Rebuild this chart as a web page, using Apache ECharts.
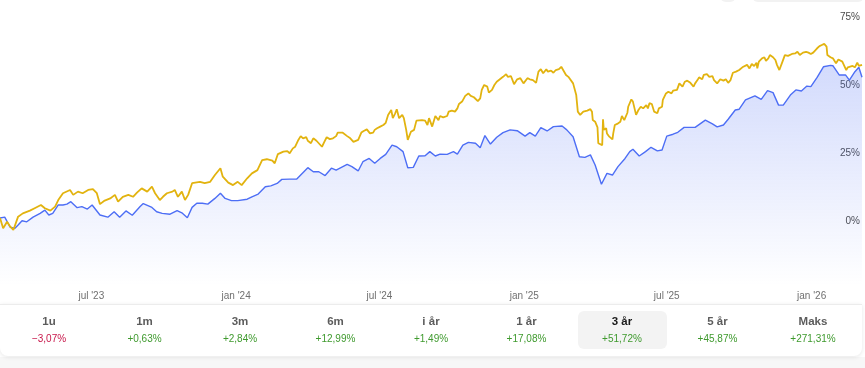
<!DOCTYPE html>
<html><head><meta charset="utf-8">
<script src="https://cdn.jsdelivr.net/npm/echarts@6/dist/echarts.min.js"></script>
<style>html,body{margin:0;padding:0;background:#fff;}#c{width:865px;height:368px;}</style>
</head><body><div id="c"></div>
<script>
// day offsets from 2023-03-07 and cumulative return in %
const blueDays = [0,6,13,19,23,28,34,42,51,57,62,67,74,80,85,90,98,104,111,117,127,137,145,152,160,168,178,182,193,199,206,216,225,231,238,244,250,257,264,273,280,286,294,302,314,320,328,337,344,352,358,368,377,391,398,405,413,421,427,441,447,455,461,469,476,483,490,498,504,512,518,525,532,540,546,553,559,568,576,581,588,595,604,610,616,623,631,639,648,657,667,673,680,687,695,703,714,720,728,736,743,750,756,764,771,778,785,794,800,804,812,820,827,835,841,847,855,861,869,883,896,905,911,919,925,934,939,947,959,967,975,982,989,995,1004,1011,1018,1025,1030,1038,1046,1055,1058,1066,1074,1079,1086,1091,1095];
const blueValues = [0,0.3,-3.4,-3.8,-2.6,-1.0,-1.4,0.3,1.7,2.9,1.1,1.7,4.8,4.8,5.1,6.0,3.8,4.2,3.3,4.8,1.1,0.3,2.3,0.3,2.6,1.0,4.2,5.3,3.9,2.3,1.7,1.4,2.7,1.9,0.1,3.9,5.4,5.4,5.1,7.2,9.1,7.2,6.4,6.4,6.9,7.8,8.8,11.5,11.8,12.7,14.2,14.3,14.3,18.5,17.0,17.0,15.6,18.3,17.6,19.7,18.9,17.3,20.7,21.9,20.1,21.9,23.4,26.8,26.2,24.4,18.5,18.6,22.8,22.9,24.4,22.8,23.5,23.4,24.4,23.5,26.8,27.8,27.5,25.8,30.3,27.2,29.7,31.4,32.4,32.1,30.1,31.4,30.1,33.2,32.0,33.6,33.8,32.4,29.9,22.5,22.3,23.2,19.5,12.4,16.4,15.8,18.9,21.9,24.4,25.3,22.8,24.4,26.0,24.7,25.0,30.1,30.8,31.5,33.3,33.3,36.0,34.6,33.5,34.2,36.3,39.7,40.0,43.4,44.9,43.6,46.8,46.1,41.5,41.5,45.2,47.1,46.7,48.5,48.3,51.7,55.6,56.1,56.0,52.6,52.6,50.7,53.8,55.4,51.72];

const benchDays = [0,4,9,13,17,23,29,38,44,52,57,64,70,74,80,89,93,99,105,112,118,123,127,133,140,146,150,156,163,169,174,180,187,193,197,203,207,212,219,222,226,231,235,239,244,248,254,260,267,273,280,283,290,296,302,307,314,320,327,333,339,346,349,353,360,365,368,372,375,379,382,385,389,391,395,398,402,404,409,412,415,419,423,427,429,435,437,441,445,449,451,455,459,462,466,470,474,476,479,483,487,490,493,497,499,502,504,507,511,513,516,518,522,526,529,531,536,540,543,545,549,553,557,559,563,568,570,574,578,581,583,587,591,595,598,602,607,610,612,615,619,621,625,628,631,633,635,639,643,645,649,653,657,661,665,670,673,677,681,684,687,690,694,696,700,703,706,710,713,715,719,722,724,728,732,734,737,741,743,746,750,752,753,756,759,760,762,765,766,767,770,771,774,778,779,781,784,788,790,793,797,798,802,804,808,811,814,817,821,823,825,828,831,835,837,841,842,846,849,853,855,860,863,867,870,873,877,881,883,886,888,892,894,898,901,905,907,911,915,919,922,925,928,931,935,939,943,945,949,952,955,958,961,962,964,968,971,973,976,978,982,985,987,990,994,997,1001,1006,1010,1013,1016,1020,1024,1027,1030,1033,1038,1041,1044,1047,1050,1051,1055,1058,1062,1065,1070,1072,1075,1077,1083,1086,1089,1091,1095];
const benchValues = [0,-3.8,-1.4,-3.2,-4.4,0.5,1.7,2.7,3.6,4.8,3.6,2.7,4.2,6.6,9.1,10.3,8.5,9.7,9.1,10.3,10.6,9.1,5.1,6.4,7.2,8.5,6.0,7.8,8.5,7.8,9.3,10.9,9.7,11.5,9.1,6.6,7.8,9.1,9.7,10.3,7.8,9.7,6.6,8.5,12.8,13.0,13.3,12.8,13.3,15.8,18.3,15.2,13.0,12.1,13.3,12.1,14.6,16.4,17.6,21.3,21.6,21.1,20.1,23.5,24.4,24.6,23.8,25.6,26.2,28.7,30.1,29.3,29.7,28.4,27.5,29.3,28.4,27.7,26.2,28.0,29.7,29.0,29.3,30.1,31.4,31.4,31.7,30.1,29.3,28.0,27.5,28.7,31.4,32.0,32.6,31.1,31.4,32.4,33.0,33.6,34.2,35.0,37.9,39.7,36.7,38.5,40.0,36.7,37.9,36.7,32.4,28.7,31.7,32.4,35.8,35.4,36.0,35.8,34.2,36.7,33.6,37.5,36.0,37.5,37.0,37.5,39.1,39.5,39.1,40.3,41.9,42.8,44.9,45.8,44.9,44.4,43.0,44.0,47.1,48.9,48.3,46.1,47.1,48.9,50.1,49.5,51.0,51.9,52.9,51.9,52.2,49.2,51.0,51.4,49.5,51.4,51.0,50.7,49.7,53.8,54.7,53.2,54.7,53.8,54.2,53.4,54.4,54.7,55.6,55.0,52.6,51.9,52.6,49.5,45.2,39.1,37.9,39.1,38.7,39.5,40.0,39.1,36.0,35.4,33.3,27.5,27.2,26.8,36.3,32.4,33.0,31.1,29.9,28.9,31.1,34.2,34.6,35.4,37.5,36.0,38.7,40.9,43.6,42.8,37.9,39.7,40.9,40.3,41.5,40.3,42.2,41.9,39.1,38.5,40.3,40.9,43.4,45.8,46.4,45.8,46.8,47.1,49.5,48.3,50.1,50.5,49.7,48.3,49.5,50.7,51.7,51.0,52.6,52.9,51.9,52.2,50.7,49.5,51.0,50.5,51.0,49.7,50.7,53.4,53.8,54.4,55.4,54.7,56.3,55.0,56.6,55.9,57.1,55.0,57.5,58.7,59.1,57.8,58.7,59.9,59.1,58.1,56.3,54.4,57.5,59.9,59.6,60.3,60.5,61.1,59.9,60.8,61.1,60.8,60.3,60.8,62.4,63.2,63.6,64.0,63.0,59.9,59.1,58.7,56.9,58.3,57.5,56.9,54.4,55.4,55.9,55.4,57.1,55.9,56.3];

const xTickDates = ['2023-07-01','2024-01-01','2024-07-01','2025-01-01','2025-07-01','2026-01-01'];
const xTickLabels = ["jul '23","jan '24","jul '24","jan '25","jul '25","jan '26"];
const yTicks = [0,25,50,75];

const periodLabels = ['1u','1m','3m','6m','i år','1 år','3 år','5 år','Maks'];
const periodValues = ['−3,07%','+0,63%','+2,84%','+12,99%','+1,49%','+17,08%','+51,72%','+45,87%','+271,31%'];
const selectedPeriod = 6;

const START = Date.UTC(2023,2,7), DAY = 864e5;
const ts = d => START + d*DAY;
const blueData = blueDays.map((d,i)=>[ts(d), blueValues[i]]);
const benchData = benchDays.map((d,i)=>[ts(d), benchValues[i]]);
const xTickTs = xTickDates.map(s=>Date.parse(s+'T00:00:00Z'));

const FONT = '"Liberation Sans", Arial, sans-serif';
const graphics = [];
graphics.push({type:'rect', silent:true, z:0, shape:{x:0,y:357,width:865,height:20}, style:{fill:'#f7f7f7'}});
graphics.push({type:'rect', silent:true, z:1, shape:{x:0,y:304,width:862,height:52,r:[0,0,8,8]}, style:{fill:'#fff', shadowBlur:4, shadowOffsetY:1, shadowColor:'rgba(0,0,0,0.10)'}});
graphics.push({type:'line', silent:true, z:2, shape:{x1:0,y1:304.5,x2:862,y2:304.5}, style:{stroke:'#ececec', lineWidth:1}});
graphics.push({type:'rect', silent:true, z:1, shape:{x:720,y:-20,width:16,height:22,r:6}, style:{fill:'#f2f2f2'}});
graphics.push({type:'rect', silent:true, z:1, shape:{x:752,y:-20,width:112,height:22,r:6}, style:{fill:'#f2f2f2'}});
periodLabels.forEach((lab,i)=>{
  const cx = 49 + i*95.5;
  if (i===selectedPeriod) {
    graphics.push({type:'rect', silent:true, z:3, shape:{x:cx-44,y:311,width:89,height:38,r:6}, style:{fill:'#f3f3f3'}});
  }
  graphics.push({type:'text', silent:true, z:4, style:{text:lab, x:cx, y:322, align:'center', verticalAlign:'middle', fill: i===selectedPeriod?'#1a1a1a':'#5c5c5c', fontSize:11.5, fontWeight:'bold', fontFamily:FONT}});
  const neg = periodValues[i].charAt(0)==='−';
  graphics.push({type:'text', silent:true, z:4, style:{text:periodValues[i], x:cx, y:339, align:'center', verticalAlign:'middle', fill: neg?'#c8174a':'#3f9a2e', fontSize:10, fontFamily:FONT}});
});

const chart = echarts.init(document.getElementById('c'), null, {renderer:'canvas'});
chart.setOption({
  animation:false,
  grid:{left:0,right:3,top:14,bottom:82,containLabel:false},
  xAxis:{type:'value', min:ts(0), max:ts(1095),
    axisLine:{show:false}, axisTick:{show:false}, splitLine:{show:false},
    axisLabel:{customValues:xTickTs, color:'#707070', fontSize:10, fontFamily:FONT, margin:5,
      formatter:(v)=>{const i=xTickTs.indexOf(v); return i>=0?xTickLabels[i]:'';}}},
  yAxis:{type:'value', position:'right', min:-25, max:75, interval:25,
    axisLine:{show:false}, axisTick:{show:false}, splitLine:{show:false},
    axisLabel:{inside:true, margin:2, fontFamily:FONT,
      formatter:(v)=> yTicks.indexOf(v)>=0 ? '{p|'+v+'%}' : '',
      rich:{p:{padding:[6,0,0,0], color:'#4a4a4a', fontSize:10, fontFamily:FONT}}}},
  graphic: graphics,
  series:[
    {type:'line', data:blueData, showSymbol:false, z:2,
      lineStyle:{color:'#4d6ef5', width:1.4},
      areaStyle:{origin:'start', color:new echarts.graphic.LinearGradient(0,0,0,1,[{offset:0,color:'rgba(90,120,245,0.38)'},{offset:1,color:'rgba(90,120,245,0)'}])}},
    {type:'line', data:benchData, showSymbol:false, z:3,
      lineStyle:{color:'#e2b30f', width:1.8}}
  ]
});
</script></body></html>
